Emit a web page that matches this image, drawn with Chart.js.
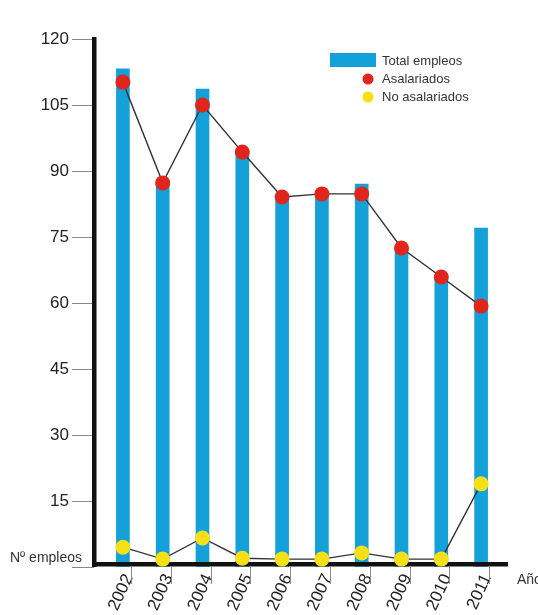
<!DOCTYPE html>
<html>
<head>
<meta charset="utf-8">
<script src="https://cdn.jsdelivr.net/npm/chart.js@4.4.0/dist/chart.umd.min.js"></script>
<style>
html,body{margin:0;padding:0;background:#ffffff;}
canvas{display:block;}
</style>
</head>
<body>
<canvas id="c" width="538" height="615"></canvas>
<script>
const years = ['2002','2003','2004','2005','2006','2007','2008','2009','2010','2011'];
const totalEmpleos = [113.2, 87.8, 108.6, 94.8, 84.3, 84.8, 87.0, 72.5, 66.0, 77.0];
const asalariados = [110.2, 87.3, 105.0, 94.3, 84.1, 84.8, 84.8, 72.5, 65.9, 59.3];
const noAsalariados = [4.5, 1.8, 6.6, 2.0, 1.8, 1.8, 3.2, 1.8, 1.8, 18.9];
const yTicks = [0, 15, 30, 45, 60, 75, 90, 105, 120];
const seriesNames = ['Total empleos', 'Asalariados', 'No asalariados'];
const yTitle = 'Nº empleos';
const xTitle = 'Año';

const BLUE = '#14a0d8', RED = '#e0261c', YELLOW = '#f5e018', LINE = '#333333';
const FONT = '"Liberation Sans", Arial, sans-serif';

const decor = {
  id: 'decor',
  afterDatasetDraw(chart, args) {
    if (args.meta.type !== 'bar') return;
    const ctx = chart.ctx;
    const xs = chart.scales.x, ys = chart.scales.y;
    const axX = 94, y0 = ys.getPixelForValue(0);
    ctx.save();
    ctx.strokeStyle = '#8a8a8a';
    ctx.lineWidth = 1;
    yTicks.forEach(v => {
      const y = Math.round(ys.getPixelForValue(v)) + 0.5;
      ctx.beginPath(); ctx.moveTo(72, y); ctx.lineTo(axX, y); ctx.stroke();
    });
    years.forEach((yr, i) => {
      const x = Math.round(xs.getPixelForValue(i)) + 8.5;
      ctx.beginPath(); ctx.moveTo(x, y0); ctx.lineTo(x, y0 + 17); ctx.stroke();
    });
    ctx.fillStyle = '#111';
    const yTop = ys.getPixelForValue(120);
    ctx.fillRect(92, yTop - 2, 4.5, y0 - yTop + 2);
    ctx.fillRect(92, y0 - 5, 416, 4.5);
    ctx.fillStyle = '#333';
    ctx.font = '14px ' + FONT;
    ctx.textBaseline = 'middle';
    ctx.textAlign = 'left';
    ctx.fillText(yTitle, 10, y0 - 9);
    ctx.fillText(xTitle, 517, y0 + 13);
    ctx.restore();
  },
  afterDraw(chart) {
    const ctx = chart.ctx;
    ctx.save();
    ctx.fillStyle = BLUE;
    ctx.fillRect(330, 53, 46, 14);
    ctx.fillStyle = RED;
    ctx.beginPath(); ctx.arc(368, 79, 5.5, 0, Math.PI * 2); ctx.fill();
    ctx.fillStyle = YELLOW;
    ctx.beginPath(); ctx.arc(368, 97, 5.5, 0, Math.PI * 2); ctx.fill();
    ctx.fillStyle = '#333';
    ctx.font = '13px ' + FONT;
    ctx.textBaseline = 'middle';
    ctx.textAlign = 'left';
    ctx.fillText(seriesNames[0], 382, 61);
    ctx.fillText(seriesNames[1], 382, 79);
    ctx.fillText(seriesNames[2], 382, 97);
    ctx.restore();
  }
};

new Chart(document.getElementById('c'), {
  data: {
    labels: years,
    datasets: [
      { type: 'bar', label: seriesNames[0], data: totalEmpleos, backgroundColor: BLUE, borderWidth: 0, barThickness: 13, order: 3 },
      { type: 'line', label: seriesNames[2], data: noAsalariados, borderColor: LINE, borderWidth: 1.4, pointRadius: 7.5, pointBackgroundColor: YELLOW, pointBorderWidth: 0, tension: 0, order: 2 },
      { type: 'line', label: seriesNames[1], data: asalariados, borderColor: LINE, borderWidth: 1.4, pointRadius: 7.5, pointBackgroundColor: RED, pointBorderWidth: 0, tension: 0, order: 1 }
    ]
  },
  options: {
    responsive: false,
    animation: false,
    devicePixelRatio: 1,
    layout: { padding: { top: 39, right: 37, left: 0, bottom: 0 } },
    plugins: { legend: { display: false }, tooltip: { enabled: false } },
    scales: {
      x: {
        offset: true,
        grid: { display: false, drawTicks: false },
        border: { display: false },
        ticks: { color: '#222', font: { family: FONT, size: 17 }, minRotation: 65, maxRotation: 65, labelOffset: 6, padding: 4 },
        afterFit(s) { s.height = 48; }
      },
      y: {
        min: 0, max: 120,
        grid: { display: true, drawOnChartArea: false, drawTicks: true, tickLength: 30, color: 'rgba(0,0,0,0)' },
        border: { display: false },
        ticks: { stepSize: 15, color: '#222', font: { family: FONT, size: 17 }, padding: 4,
          callback: v => (v === 0 ? '' : String(v)) },
        afterFit(s) { s.width = 103; }
      }
    }
  },
  plugins: [decor]
});
</script>
</body>
</html>
